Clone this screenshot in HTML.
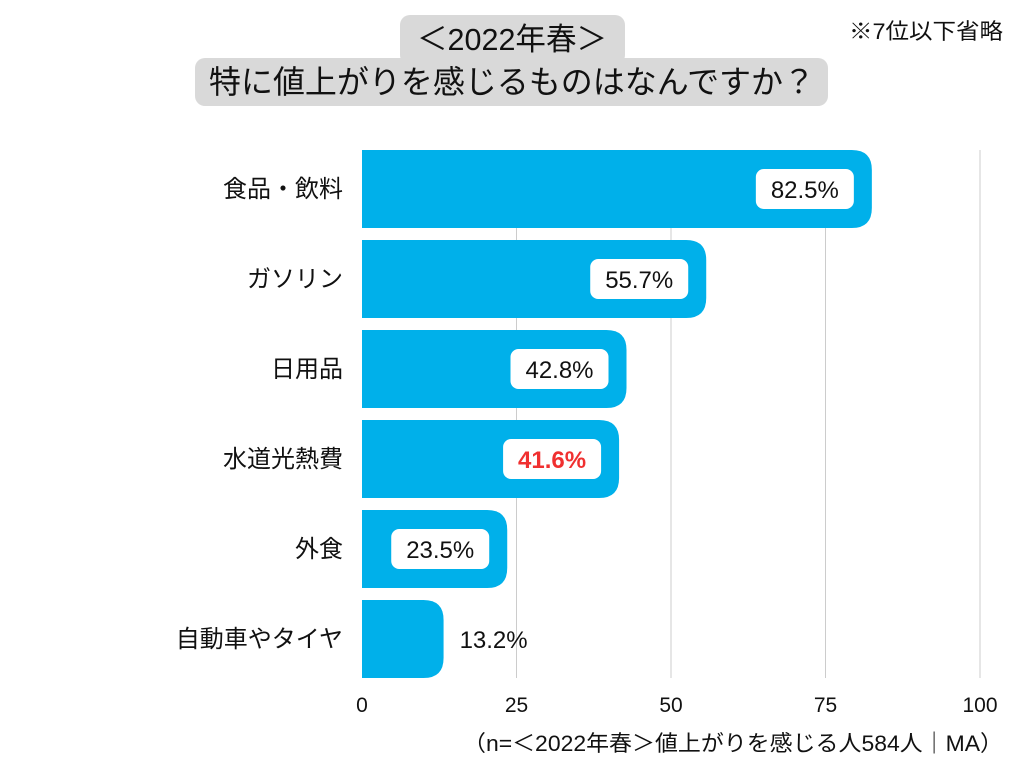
<!DOCTYPE html>
<html><head><meta charset="utf-8">
<style>
body{margin:0;background:#fff;width:1024px;height:768px;overflow:hidden;font-family:"Liberation Sans","Noto Sans CJK JP",sans-serif;}
</style></head>
<body>
<svg id="chart" width="1024" height="768" xmlns="http://www.w3.org/2000/svg" font-family="Liberation Sans, Noto Sans CJK JP, sans-serif">
<g>
<rect x="400" y="15" width="225" height="50" rx="10" fill="#d9d9d9"/>
<rect x="195" y="58" width="633" height="48" rx="10" fill="#d9d9d9"/>
<text x="512" y="50" font-size="31" text-anchor="middle" fill="#111" textLength="190" lengthAdjust="spacingAndGlyphs">＜2022年春＞</text>
<text x="512" y="93" font-size="32" text-anchor="middle" fill="#111" textLength="606" lengthAdjust="spacingAndGlyphs">特に値上がりを感じるものはなんですか？</text>
</g>
<text x="1003" y="39" font-size="22" text-anchor="end" fill="#111" textLength="154" lengthAdjust="spacingAndGlyphs">※7位以下省略</text>
<g id="grid"></g><g id="bars"></g><g id="ticks"></g>
<text x="463" y="751" font-size="22" fill="#111" textLength="540" lengthAdjust="spacingAndGlyphs">（n=＜2022年春＞値上がりを感じる人584人｜MA）</text>
</svg>
<script>
const categories=["食品・飲料","ガソリン","日用品","水道光熱費","外食","自動車やタイヤ"];
const values=[82.5,55.7,42.8,41.6,23.5,13.2];
const tickValues=[0,25,50,75,100];
const ns="http://www.w3.org/2000/svg";
const x0=362,x1=980,top0=150,pitch=90,bh=78;
const xs=v=>x0+(x1-x0)*v/100;
function mk(t,a,p){const e=document.createElementNS(ns,t);for(const k in a)e.setAttribute(k,a[k]);p.appendChild(e);return e;}
const grid=document.getElementById('grid'),bars=document.getElementById('bars'),ticks=document.getElementById('ticks');
tickValues.forEach(t=>{
 if(t>0){const l=mk('line',{x1:xs(t),x2:xs(t),y1:150,y2:678,stroke:'#cccccc','stroke-width':1},grid);
 
 }
 const tx=mk('text',{x:xs(t),y:712,'font-size':21,'text-anchor':'middle',fill:'#111'},ticks);tx.textContent=t;
 
 
});
categories.forEach((c,i)=>{
 const y=top0+i*pitch,w=xs(values[i])-x0,r=20;
 const p=mk('path',{d:`M${x0},${y}H${x0+w-r}Q${x0+w},${y} ${x0+w},${y+r}V${y+bh-r}Q${x0+w},${y+bh} ${x0+w-r},${y+bh}H${x0}Z`,fill:'#00b0ea'},bars);
 
 
 const lb=mk('text',{x:343,y:y+bh/2+8,'font-size':24,'text-anchor':'end',fill:'#111'},bars);lb.textContent=c;
 
 
 const txt=values[i].toFixed(1)+'%';
 if(w>110){
  const bx=x0+w-18-98;
  const rb=mk('rect',{x:bx,y:y+bh/2-20,width:98,height:40,rx:8,fill:'#fff'},bars);
  
  
  const red=i===3;
  const t=mk('text',{x:bx+49,y:y+bh/2+9,'font-size':24,'text-anchor':'middle',fill:red?'#f03030':'#111','font-weight':red?'bold':'normal'},bars);t.textContent=txt;
  
  
 }else{
  const t=mk('text',{x:x0+w+16,y:y+bh/2+9,'font-size':24,fill:'#111'},bars);t.textContent=txt;
  
  
 }
});
</script>
</body></html>
